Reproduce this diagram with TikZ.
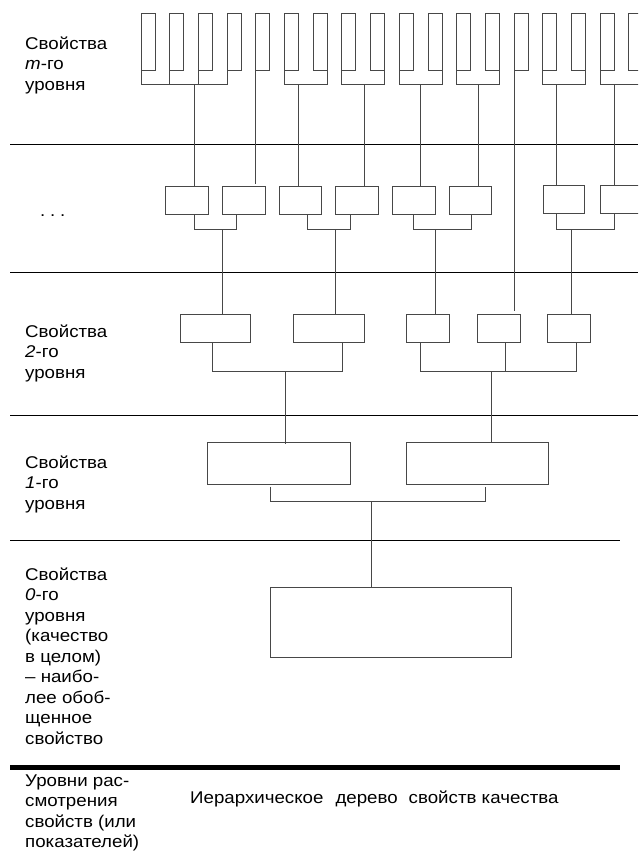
\documentclass[tikz,border=0pt]{standalone}
\usepackage{fontspec}
\setmainfont[FakeStretch=1.1]{Liberation Sans}
\begin{document}
\begin{tikzpicture}[x=1pt,y=-1pt,
  ln/.style={draw=black!72, line width=1pt},
  tbox/.style={ln, minimum width=14pt, minimum height=56.7pt, inner sep=0pt, outer sep=0pt, anchor=north west},
  mbox/.style={ln, minimum width=42.7pt, minimum height=27.6pt, inner sep=0pt, outer sep=0pt, anchor=north west},
  lbox/.style={ln, minimum height=27.7pt, inner sep=0pt, outer sep=0pt, anchor=north west},
  bbox/.style={ln, inner sep=0pt, outer sep=0pt, anchor=north west},
  sep/.style={draw=black, line width=1pt},
  lbl/.style={font=\fontsize{17}{20.5}\selectfont, align=left, anchor=base west, inner sep=0pt}]
\useasboundingbox (0,0) rectangle (638,852);
\clip (0,0) rectangle (638,852);

% separators
\coordinate (a1) at (10,144.3); \coordinate (b1) at (638,144.3);
\coordinate (a2) at (10,272);   \coordinate (b2) at (638,272);
\coordinate (a3) at (10,415.7); \coordinate (b3) at (638,415.7);
\coordinate (a4) at (10,540.7); \coordinate (b4) at (620,540.7);
\coordinate (a5) at (10,767);   \coordinate (b5) at (620,767);
\draw[sep] (a1) -- (b1);
\draw[sep] (a2) -- (b2);
\draw[sep] (a3) -- (b3);
\draw[sep] (a4) -- (b4);
\draw[draw=black, line width=5pt] (a5) -- (b5);

% top level boxes
\foreach \i in {1,...,18}
  \node[tbox] (t\i) at ({141.3+28.67*(\i-1)},13.3) {};

% middle level boxes
\node[mbox] (m1) at (165.3,186.7) {};
\node[mbox] (m2) at (222.7,186.7) {};
\node[mbox] (m3) at (279,186.7) {};
\node[mbox] (m4) at (335.3,186.7) {};
\node[mbox] (m5) at (392.7,186.7) {};
\node[mbox] (m6) at (449,186.7) {};
\node[mbox, minimum width=41.3pt] (m7) at (543,185.5) {};
\node[mbox] (m8) at (600.7,185.5) {};

% level 2 boxes
\node[lbox, minimum width=70.4pt] (P) at (180.3,314.3) {};
\node[lbox, minimum width=71.3pt] (Q) at (293,314.3) {};
\node[lbox, minimum width=43pt] (R) at (406.3,314.3) {};
\node[lbox, minimum width=42.6pt] (S) at (477.7,314.3) {};
\node[lbox, minimum width=42.6pt] (T) at (547.7,314.3) {};

% level 1 boxes
\node[bbox, minimum width=143pt, minimum height=42pt] (U) at (207.7,442) {};
\node[bbox, minimum width=141.3pt, minimum height=42pt] (V) at (406.7,442) {};

% level 0 box
\node[bbox, minimum width=241pt, minimum height=70pt] (Z) at (270,587) {};

% top brackets
\coordinate (yb1) at (0,84.7);
\draw[ln] (t1.south west) |- (t4.south west |- yb1) -- (t4.south west);
\draw[ln] (t2.south west) -- (t2.south west |- yb1);
\draw[ln] (t3.south west) -- (t3.south west |- yb1);
\draw[ln] (t6.south west) |- (t7.south east |- yb1) -- (t7.south east);
\draw[ln] (t8.south west) |- (t9.south east |- yb1) -- (t9.south east);
\draw[ln] (t10.south west) |- (t11.south east |- yb1) -- (t11.south east);
\draw[ln] (t12.south west) |- (t13.south east |- yb1) -- (t13.south east);
\draw[ln] (t15.south west) |- (t16.south east |- yb1) -- (t16.south east);
\draw[ln] (t17.south west) |- (t18.south east |- yb1) -- (t18.south east);
\coordinate (s1) at (194.3,84.7);
\coordinate (s3) at (298.7,84.7);
\coordinate (s4) at (364,84.7);
\coordinate (s5) at (420.7,84.7);
\coordinate (s6) at (478,84.7);
\coordinate (s8) at (556.7,84.7);
\coordinate (s9) at (614.7,84.7);
\draw[ln] (s1) -- (s1 |- m1.north);
\draw[ln] (s3) -- (s3 |- m3.north);
\draw[ln] (s4) -- (s4 |- m4.north);
\draw[ln] (s5) -- (s5 |- m5.north);
\draw[ln] (s6) -- (s6 |- m6.north);
\draw[ln] (s8) -- (s8 |- m7.north);
\draw[ln] (s9) -- (s9 |- m8.north);
\coordinate (e2) at (t5.south west |- 0,184);
\coordinate (e7) at (t14.south west |- 0,311.3);
\draw[ln] (t5.south west) -- (e2);
\draw[ln] (t14.south west) -- (e7);

% middle brackets
\coordinate (yb2) at (0,229);
\draw[ln] ([xshift=29pt]m1.south west) |- ([xshift=14pt]m2.south west |- yb2) -- ([xshift=14pt]m2.south west);
\draw[ln] ([xshift=28.7pt]m3.south west) |- ([xshift=15pt]m4.south west |- yb2) -- ([xshift=15pt]m4.south west);
\draw[ln] ([xshift=21pt]m5.south west) |- ([xshift=22pt]m6.south west |- yb2) -- ([xshift=22pt]m6.south west);
\draw[ln] ([xshift=13.7pt]m7.south west) |- ([xshift=14pt]m8.south west |- yb2) -- ([xshift=14pt]m8.south west);
\coordinate (k1) at (222.7,229);
\coordinate (k2) at (335.3,229);
\coordinate (k3) at (435.3,229);
\coordinate (k4) at (571.7,229);
\draw[ln] (k1) -- (k1 |- P.north);
\draw[ln] (k2) -- (k2 |- Q.north);
\draw[ln] (k3) -- (k3 |- R.north);
\draw[ln] (k4) -- (k4 |- T.north);

% level 2 brackets
\coordinate (yb3) at (0,371.3);
\draw[ln] ([xshift=32.4pt]P.south west) |- ([xshift=49.3pt]Q.south west |- yb3) -- ([xshift=49.3pt]Q.south west);
\draw[ln] ([xshift=14.4pt]R.south west) |- ([xshift=29pt]T.south west |- yb3) -- ([xshift=29pt]T.south west);
\draw[ln] ([xshift=27.6pt]S.south west) -- ([xshift=27.6pt]S.south west |- yb3);
\coordinate (n1) at (285,371.3);
\coordinate (n2) at (491.7,371.3);
\coordinate (n1e) at (285,444);
\draw[ln] (n1) -- (n1e);
\draw[ln] (n2) -- (n2 |- V.north);

% level 1 bracket
\coordinate (c1a) at (270,486.7);
\coordinate (c1b) at (485.7,486.7);
\coordinate (j1) at (371,501);
\draw[ln] (c1a) |- (c1b |- j1) -- (c1b);
\draw[ln] (j1) -- (j1 |- Z.north);

% labels (base = baseline of last line)
\node[lbl] (l1) at (25,90) {Свойства\\\textit{m}-го\\уровня};
\node[lbl] (l2) at (40,216) {.\hspace{4.8pt}.\hspace{4.8pt}.};
\node[lbl] (l3) at (25,378) {Свойства\\\textit{2}-го\\уровня};
\node[lbl] (l4) at (25,509) {Свойства\\\textit{1}-го\\уровня};
\node[lbl] (l5) at (25,744) {Свойства\\\textit{0}-го\\уровня\\(качество\\в целом)\\– наибо-\\лее обоб-\\щенное\\свойство};
\node[lbl] (l6) at (25,847.5) {Уровни рас-\\смотрения\\свойств (или\\показателей)};
\node[lbl] (l7) at (190,803) {Иерархическое\hspace{12pt}дерево\hspace{11pt}свойств качества};
\end{tikzpicture}
\end{document}
